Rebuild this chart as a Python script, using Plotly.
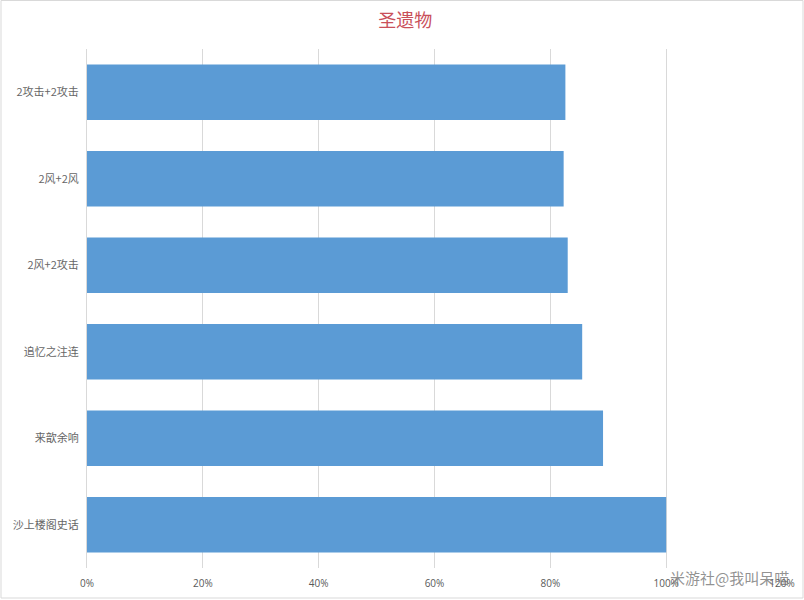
import plotly.graph_objects as go

categories = ["2攻击+2攻击", "2风+2风", "2风+2攻击", "追忆之注连", "来歆余响", "沙上楼阁史话"]
values = [82.6, 82.3, 83.0, 85.5, 89.1, 100.0]
x_ticks = [0, 20, 40, 60, 80, 100, 120]
x_tick_labels = ["0%", "20%", "40%", "60%", "80%", "100%", "120%"]

fig = go.Figure(go.Bar(
    x=values, y=categories, orientation="h",
    marker=dict(color="#5B9BD5", line=dict(width=0)),
    hoverinfo="x+y",
))

fig.update_layout(
    width=804, height=600,
    margin=dict(l=87, r=22, t=49, b=32, autoexpand=False),
    paper_bgcolor="white", plot_bgcolor="white",
    bargap=0.357,
    showlegend=False,
    title=dict(text="圣遗物", x=0.504, xanchor="center", y=0.965, yanchor="middle",
               font=dict(family="Noto Sans CJK SC", size=18, color="#C9505A")),
    font=dict(family="Noto Sans CJK SC", color="#595959"),
)
fig.update_xaxes(range=[0, 120], tickvals=x_ticks, ticktext=x_tick_labels,
                 showgrid=True, gridcolor="#D9D9D9", gridwidth=1, zeroline=False,
                 showline=False, tickfont=dict(size=10, color="#595959", family="Open Sans"),
                 ticks="", ticklabelstandoff=8, automargin=False, fixedrange=True)
fig.update_yaxes(autorange="reversed", showgrid=False, showline=True, linecolor="#D9D9D9",
                 linewidth=1, ticks="", ticklabelstandoff=5, automargin=False,
                 tickfont=dict(size=11, color="#666666", family="Noto Sans CJK SC"))

# outer chart border
fig.add_shape(type="rect", xref="paper", yref="paper",
              x0=-86/695, x1=(695 + 21)/695, y0=-30/519, y1=(519 + 48.5)/519,
              line=dict(color="#D9D9D9", width=1), fillcolor="rgba(0,0,0,0)")

fig.add_annotation(text="米游社@我叫呆喵", xref="paper", yref="paper",
                   x=(668 - 87) / 695, y=-0.019, xanchor="left", yanchor="middle", showarrow=False,
                   font=dict(family="Noto Sans CJK SC", size=15, color="rgba(110,110,110,0.75)"))

fig.write_html("out.html", config={"displayModeBar": False},
               post_script="document.body.style.margin='0';")
